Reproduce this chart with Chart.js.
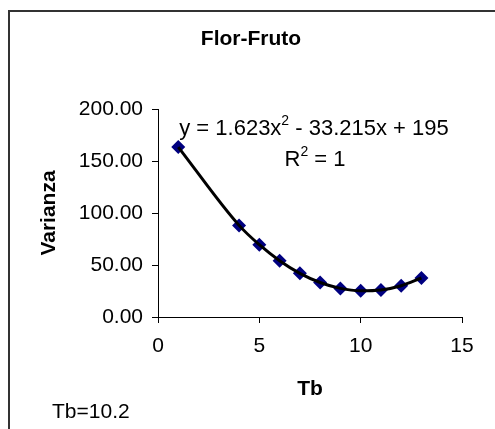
<!DOCTYPE html>
<html lang="es">
<head>
<meta charset="UTF-8">
<title>Flor-Fruto</title>
<script src="https://cdn.jsdelivr.net/npm/chart.js"></script>
<style>
    html, body { margin: 0; padding: 0; background: #ffffff; }
    #wrap { width: 495px; height: 429px; position: relative; }
</style>
</head>
<body>
<div id="wrap"><canvas id="chart"></canvas></div>
<script>
    // Tb (x) y varianza
    const tb = [1, 4, 5, 6, 7, 8, 9, 10, 11, 12, 13];
    const varianza = [163.4, 88.1, 69.5, 54.1, 42.0, 33.2, 27.5, 25.2, 26.0, 30.1, 37.5];
    const xTicks = [0, 5, 10, 15];
    const yTicks = [0, 50, 100, 150, 200];
    const titulo = 'Flor-Fruto';
    const ecuacion = [['y = 1.623x', false], ['2', true], [' - 33.215x + 195', false]];
    const r2 = [['R', false], ['2', true], [' = 1', false]];
    const nota = 'Tb=10.2';

    const FONT = 'Arial, "Liberation Sans", sans-serif';
    const puntos = tb.map((x, i) => ({ x: x, y: varianza[i] }));

    function textoSup(ctx, parts, cx, cy, size) {
        const sup = Math.round(size * 0.62);
        let w = 0;
        parts.forEach(p => {
            ctx.font = (p[1] ? sup : size) + 'px ' + FONT;
            w += ctx.measureText(p[0]).width;
        });
        let x = cx - w / 2;
        ctx.textAlign = 'left';
        ctx.textBaseline = 'middle';
        parts.forEach(p => {
            ctx.font = (p[1] ? sup : size) + 'px ' + FONT;
            ctx.fillText(p[0], x, p[1] ? cy - size * 0.35 : cy);
            x += ctx.measureText(p[0]).width;
        });
    }

    const extras = {
        id: 'extras',
        afterDraw(chart) {
            const ctx = chart.ctx;
            ctx.save();
            // marco
            ctx.strokeStyle = '#333333';
            ctx.lineWidth = 2;
            ctx.beginPath();
            ctx.moveTo(9, 429);
            ctx.lineTo(9, 11);
            ctx.lineTo(495, 11);
            ctx.stroke();

            ctx.fillStyle = '#000000';
            ctx.font = 'bold 21px ' + FONT;
            ctx.textAlign = 'center';
            ctx.textBaseline = 'alphabetic';
            ctx.fillText(titulo, 251, 45);

            textoSup(ctx, ecuacion, 314, 129, 22);
            textoSup(ctx, r2, 315, 160, 22);

            ctx.font = '21px ' + FONT;
            ctx.textAlign = 'left';
            ctx.textBaseline = 'middle';
            ctx.fillText(nota, 52, 412);
            ctx.restore();
        }
    };

    new Chart(document.getElementById('chart'), {
        type: 'scatter',
        data: {
            datasets: [
                {
                    type: 'line',
                    data: puntos,
                    borderColor: '#000000',
                    borderWidth: 3,
                    pointRadius: 0,
                    fill: false,
                    cubicInterpolationMode: 'monotone'
                },
                {
                    data: puntos,
                    pointStyle: 'rectRot',
                    pointRadius: 7,
                    pointBackgroundColor: '#000080',
                    pointBorderColor: '#000080',
                    pointBorderWidth: 0
                }
            ]
        },
        options: {
            responsive: true,
            maintainAspectRatio: false,
            animation: false,
            layout: { padding: { left: 10, top: 109, right: 33, bottom: 10 } },
            plugins: {
                legend: { display: false },
                tooltip: { enabled: false }
            },
            scales: {
                x: {
                    type: 'linear',
                    min: 0,
                    max: 15,
                    afterBuildTicks: s => { s.ticks = xTicks.map(v => ({ value: v })); },
                    afterFit: s => { s.height = 102; },
                    border: { color: '#000000', width: 1 },
                    grid: { drawOnChartArea: false, tickLength: 6, color: '#000000' },
                    ticks: { color: '#000000', padding: 11, font: { family: FONT, size: 21 } },
                    title: {
                        display: true, text: 'Tb', color: '#000000',
                        font: { family: FONT, size: 21, weight: 'bold' },
                        padding: { top: 0, bottom: 17 }
                    }
                },
                y: {
                    min: 0,
                    max: 200,
                    afterBuildTicks: s => { s.ticks = yTicks.map(v => ({ value: v })); },
                    afterFit: s => { s.width = 148; },
                    border: { color: '#000000', width: 1 },
                    grid: { drawOnChartArea: false, tickLength: 6, color: '#000000' },
                    ticks: {
                        color: '#000000', padding: 9,
                        font: { family: FONT, size: 21 },
                        callback: v => v.toFixed(2)
                    },
                    title: {
                        display: true, text: 'Varianza', color: '#000000',
                        font: { family: FONT, size: 21, weight: 'bold' },
                        padding: { top: 27, bottom: 0 }
                    }
                }
            }
        },
        plugins: [extras]
    });
</script>
</body>
</html>
